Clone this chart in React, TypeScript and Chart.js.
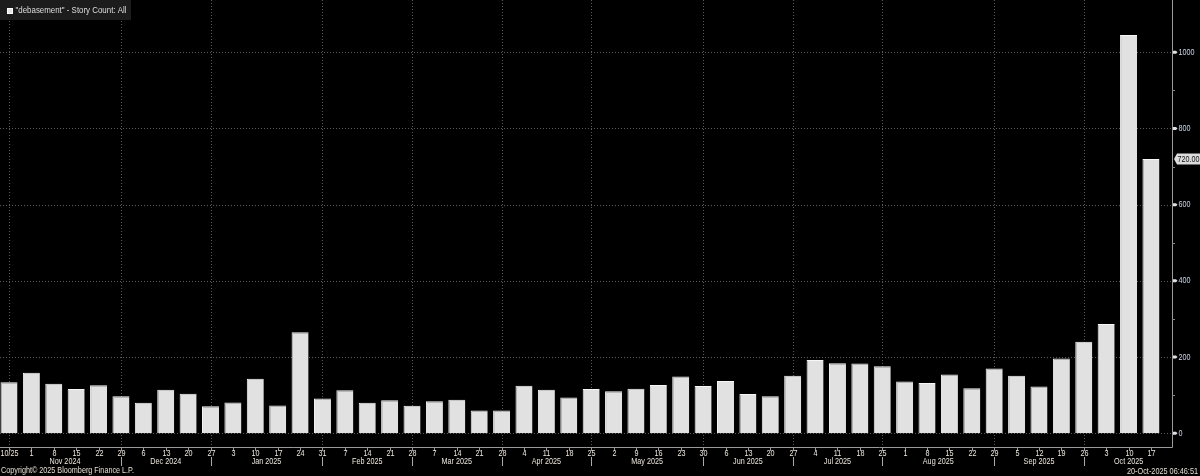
import React, { useEffect, useRef } from "react";
import { Chart, registerables } from "chart.js";

Chart.register(...registerables);

const weekLabels = [
  "10/25", "1", "8", "15", "22", "29", "6", "13", "20", "27", "3", "10", "17",
  "24", "31", "7", "14", "21", "28", "7", "14", "21", "28", "4", "11", "18",
  "25", "2", "9", "16", "23", "30", "6", "13", "20", "27", "4", "11", "18",
  "25", "1", "8", "15", "22", "29", "5", "12", "19", "26", "3", "10", "17",
];

const storyCounts = [
  134, 159, 130, 116, 126, 97, 80, 114, 104, 71, 81, 143, 73, 265, 91, 113, 80,
  87, 72, 84, 88, 60, 60, 125, 114, 94, 116, 110, 117, 127, 149, 124, 137, 103,
  97, 151, 192, 184, 183, 176, 136, 132, 154, 118, 170, 151, 123, 196, 240, 287,
  1045, 720,
];

const monthNames = [
  "Nov 2024", "Dec 2024", "Jan 2025", "Feb 2025", "Mar 2025", "Apr 2025",
  "May 2025", "Jun 2025", "Jul 2025", "Aug 2025", "Sep 2025", "Oct 2025",
];

// week index where each month block begins/ends (boundaries)
const monthBounds = [0, 5, 9, 14, 18, 22, 26, 31, 35, 39, 44, 48, 52];

const yMajorTicks = [0, 200, 400, 600, 800, 1000];
const yMinorTicks = [100, 300, 500, 700, 900];

const legendText = '"debasement" - Story Count: All';
const copyrightText = "Copyright\u00A9 2025 Bloomberg Finance L.P.";
const stampText = "20-Oct-2025 06:46:51";

const FONT = '9px "Liberation Sans", Arial, sans-serif';
const SX = 0.8;

function txt(ctx: CanvasRenderingContext2D, s: string, x: number, y: number, align: CanvasTextAlign, sx: number) {
  ctx.save();
  ctx.translate(x, y);
  ctx.scale(sx, 1);
  ctx.textAlign = align;
  ctx.textBaseline = "middle";
  ctx.fillText(s, 0, 0);
  ctx.restore();
}

function fitTxt(ctx: CanvasRenderingContext2D, s: string, x: number, y: number, w: number, align: CanvasTextAlign) {
  const m = ctx.measureText(s).width;
  txt(ctx, s, x, y, align, w / m);
}

function line(ctx: CanvasRenderingContext2D, x1: number, y1: number, x2: number, y2: number) {
  ctx.beginPath();
  ctx.moveTo(x1, y1);
  ctx.lineTo(x2, y2);
  ctx.stroke();
}

const bbgPlugin = {
  id: "bbg",
  beforeDraw(chart: any) {
    const { ctx, width, height } = chart;
    ctx.save();
    ctx.fillStyle = "#000";
    ctx.fillRect(0, 0, width, height);
    ctx.restore();
  },
  beforeDatasetsDraw(chart: any) {
    const { ctx, chartArea, scales } = chart;
    const { left, right, top, bottom } = chartArea;
    const x = scales.x;
    const y = scales.y;
    ctx.save();
    ctx.strokeStyle = "#5a5a5a";
    ctx.lineWidth = 1;
    ctx.setLineDash([1, 2]);
    yMajorTicks.forEach((v) => {
      const py = Math.round(y.getPixelForValue(v)) + 0.5;
      line(ctx, left, py, right, py);
    });
    monthBounds.slice(0, -1).forEach((i) => {
      const px = Math.round(x.getPixelForValue(i)) + 0.5;
      line(ctx, px, top, px, bottom);
    });
    ctx.restore();
  },
  afterDraw(chart: any) {
    const { ctx, chartArea, scales } = chart;
    const { left, right, top, bottom } = chartArea;
    const x = scales.x;
    const y = scales.y;
    ctx.save();
    ctx.font = FONT;

    // axis lines
    ctx.strokeStyle = "#9a9a9a";
    ctx.lineWidth = 1;
    line(ctx, left, bottom + 0.5, right + 0.5, bottom + 0.5);
    line(ctx, right + 0.5, top, right + 0.5, bottom + 0.5);

    // right axis ticks and labels
    yMinorTicks.forEach((v) => {
      const py = Math.round(y.getPixelForValue(v)) + 0.5;
      ctx.strokeStyle = "#888";
      line(ctx, right, py, right + 3, py);
    });
    yMajorTicks.forEach((v) => {
      const py = y.getPixelForValue(v);
      ctx.fillStyle = "#e0e0e0";
      ctx.beginPath();
      ctx.moveTo(right + 1, py - 1.5);
      ctx.lineTo(right + 4, py - 1.5);
      ctx.lineTo(right + 5.5, py);
      ctx.lineTo(right + 4, py + 1.5);
      ctx.lineTo(right + 1, py + 1.5);
      ctx.closePath();
      ctx.fill();
      ctx.fillStyle = "#cdd6e4";
      txt(ctx, String(v), right + 6.5, py, "left", SX);
    });

    // last value label
    const last = storyCounts[storyCounts.length - 1];
    const ly = y.getPixelForValue(last);
    ctx.fillStyle = "#dcdcdc";
    ctx.beginPath();
    ctx.moveTo(right + 2, ly);
    ctx.lineTo(right + 5, ly - 5.5);
    ctx.lineTo(1200, ly - 5.5);
    ctx.lineTo(1200, ly + 5.5);
    ctx.lineTo(right + 5, ly + 5.5);
    ctx.closePath();
    ctx.fill();
    ctx.fillStyle = "#111";
    fitTxt(ctx, last.toFixed(2), right + 5.5, ly + 0.5, 22, "left");

    // bottom ticks & week labels
    weekLabels.forEach((lab, i) => {
      const px = Math.round(x.getPixelForValue(i)) + 0.5;
      ctx.strokeStyle = "#999";
      line(ctx, px, bottom + 1, px, bottom + 4);
      ctx.fillStyle = "#ece6dc";
      txt(ctx, lab, px, bottom + 6.5, "center", SX);
    });

    // month separators and labels
    monthBounds.forEach((b, k) => {
      if (k > 0 && k < monthBounds.length - 1) {
        const px = Math.round(x.getPixelForValue(b)) + 0.5;
        ctx.strokeStyle = "#aaa";
        line(ctx, px, bottom + 10, px, bottom + 19);
      }
      if (k < monthNames.length) {
        const mid = (b + monthBounds[k + 1]) / 2;
        const px = x.getPixelForValue(mid);
        ctx.fillStyle = "#ece6dc";
        txt(ctx, monthNames[k], px, bottom + 15, "center", SX);
      }
    });

    // footer
    ctx.fillStyle = "#e4dccf";
    fitTxt(ctx, copyrightText, 1, 471, 133, "left");
    fitTxt(ctx, stampText, 1198, 472, 71, "right");

    // legend box
    ctx.fillStyle = "#1c1c1c";
    ctx.fillRect(0, 0, 131, 20);
    ctx.fillStyle = "#e6e6e6";
    ctx.fillRect(7, 8, 6, 6);
    ctx.strokeStyle = "#fff";
    ctx.strokeRect(7.5, 8.5, 5, 5);
    ctx.fillStyle = "#dedede";
    fitTxt(ctx, legendText, 15.5, 10.8, 111, "left");

    ctx.restore();
  },
};

export default function App() {
  const ref = useRef<HTMLCanvasElement | null>(null);

  useEffect(() => {
    document.body.style.margin = "0";
    document.body.style.background = "#000";
    const canvas = ref.current;
    if (!canvas) return;
    const chart = new Chart(canvas, {
      type: "bar",
      data: {
        datasets: [
          {
            label: legendText,
            data: storyCounts.map((v, i) => ({ x: i, y: v })),
            backgroundColor: "#e1e1e1",
            borderColor: "#f7f7f7",
            borderWidth: { left: 1, top: 1, right: 0, bottom: 0 },
            barPercentage: 0.76,
            categoryPercentage: 1,
          },
        ],
      },
      options: {
        animation: false,
        responsive: false,
        devicePixelRatio: 1,
        layout: { padding: { left: 0, right: 28, top: 0, bottom: 29 } },
        plugins: { legend: { display: false }, tooltip: { enabled: false } },
        scales: {
          x: { type: "linear", min: -0.402, max: 51.94, display: false, offset: false },
          y: { type: "linear", min: -36, max: 1137, display: false },
        },
      },
      plugins: [bbgPlugin],
    });
    return () => chart.destroy();
  }, []);

  return (
    <div style={{ position: "absolute", left: 0, top: 0, width: 1200, height: 476, background: "#000" }}>
      <canvas ref={ref} width={1200} height={476} style={{ display: "block", width: 1200, height: 476 }} />
    </div>
  );
}
